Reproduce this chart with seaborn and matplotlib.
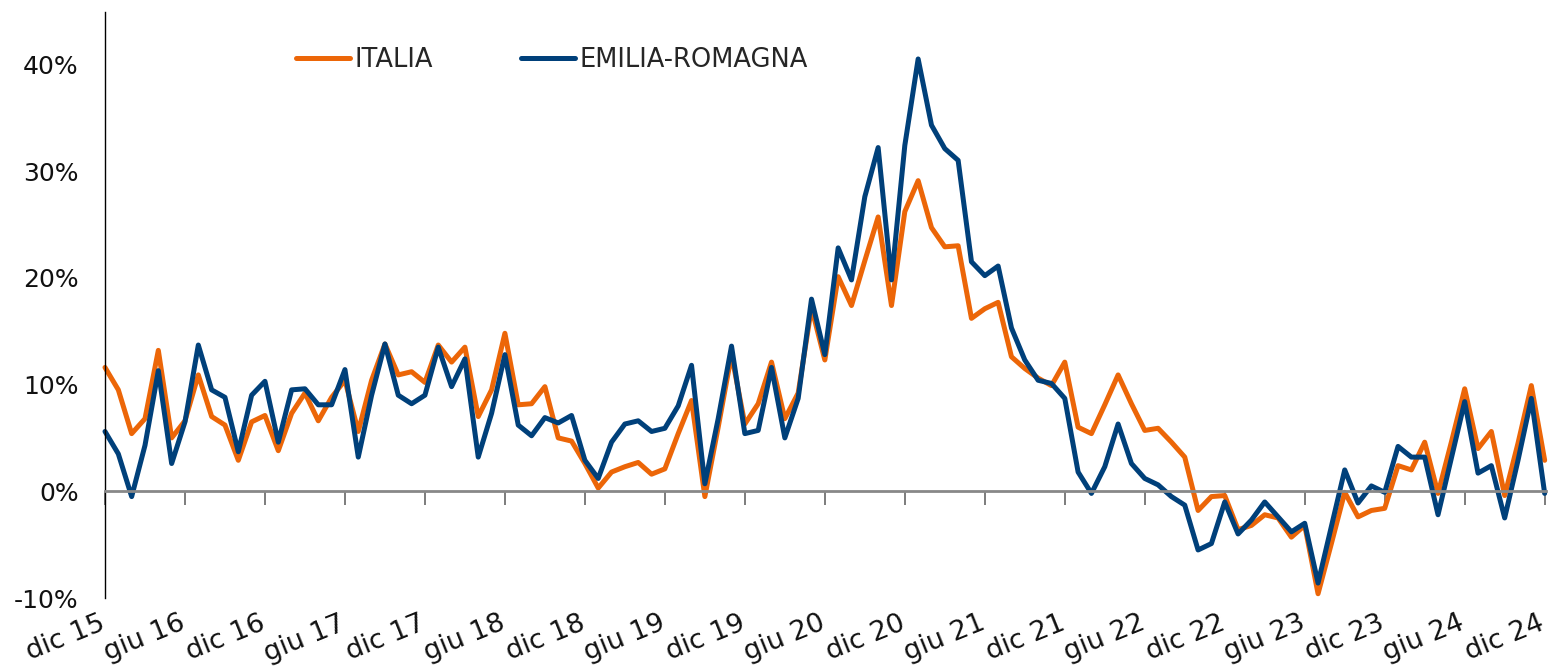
import matplotlib
matplotlib.use("Agg")
import matplotlib.pyplot as plt
from matplotlib.ticker import FuncFormatter
from matplotlib.transforms import ScaledTranslation
import numpy as np
import pandas as pd
import seaborn as sns

# ---- data (monthly, dic 15 .. dic 24) ----
italia = [11.6, 9.5, 5.4, 6.8, 13.2, 5.0, 6.6, 10.9, 7.0, 6.2, 2.9, 6.5, 7.1, 3.8, 7.3, 9.2,
          6.6, 8.8, 10.4, 5.6, 10.4, 13.8, 10.9, 11.2, 10.2, 13.7, 12.1, 13.5, 7.0, 9.5, 14.8,
          8.1, 8.2, 9.8, 5.0, 4.7, 2.6, 0.3, 1.8, 2.3, 2.7, 1.6, 2.1, 5.4, 8.5, -0.5, 6.0,
          12.8, 6.3, 8.2, 12.1, 6.8, 9.2, 17.2, 12.3, 20.1, 17.4, 21.6, 25.7, 17.4, 26.2,
          29.1, 24.7, 22.9, 23.0, 16.2, 17.1, 17.7, 12.6, 11.5, 10.6, 9.9, 12.1, 6.0, 5.4,
          8.1, 10.9, 8.2, 5.7, 5.9, 4.6, 3.2, -1.8, -0.5, -0.4, -3.6, -3.2, -2.2, -2.5, -4.3,
          -3.2, -9.6, -4.9, -0.1, -2.4, -1.8, -1.6, 2.4, 2.0, 4.6, -0.2, 4.6, 9.6, 4.0, 5.6,
          -0.4, 4.5, 9.9, 2.9]
emilia_romagna = [5.6, 3.5, -0.5, 4.3, 11.3, 2.6, 6.5, 13.7, 9.5, 8.8, 3.7, 9.0, 10.3, 4.6,
                  9.5, 9.6, 8.1, 8.1, 11.4, 3.2, 9.0, 13.8, 9.0, 8.2, 9.0, 13.5, 9.8, 12.4,
                  3.2, 7.3, 12.8, 6.2, 5.2, 6.9, 6.4, 7.1, 2.9, 1.2, 4.6, 6.3, 6.6, 5.6, 5.9,
                  8.0, 11.8, 0.7, 6.8, 13.6, 5.4, 5.7, 11.6, 5.0, 8.7, 18.0, 12.8, 22.8, 19.8,
                  27.6, 32.2, 19.8, 32.4, 40.5, 34.3, 32.1, 31.0, 21.5, 20.2, 21.1, 15.3, 12.3,
                  10.4, 10.1, 8.7, 1.8, -0.2, 2.3, 6.3, 2.6, 1.2, 0.6, -0.5, -1.3, -5.5, -4.9,
                  -1.0, -4.0, -2.7, -1.0, -2.4, -3.8, -3.0, -8.6, -3.3, 2.0, -1.1, 0.5, -0.1,
                  4.2, 3.2, 3.2, -2.2, 3.1, 8.4, 1.7, 2.4, -2.5, 2.9, 8.7, -0.2]
tick_labels = ["dic 15", "giu 16", "dic 16", "giu 17", "dic 17", "giu 18", "dic 18",
               "giu 19", "dic 19", "giu 20", "dic 20", "giu 21", "dic 21", "giu 22",
               "dic 22", "giu 23", "dic 23", "giu 24", "dic 24"]
y_ticks = [-10, 0, 10, 20, 30, 40]

ORANGE = "#EC6608"
BLUE = "#00407A"

sns.set_theme(style="white")
plt.rcParams['font.family'] = ['DejaVu Sans']

months = np.arange(len(italia))
df = pd.DataFrame({"m": months, "ITALIA": italia, "EMILIA-ROMAGNA": emilia_romagna})

W, H = 1549, 670
fig = plt.figure(figsize=(W / 100, H / 100), dpi=100)
ax = fig.add_axes([105 / W, 72 / H, (1546 - 105) / W, (658 - 72) / H])

sns.lineplot(data=df, x="m", y="ITALIA", color=ORANGE, lw=3.6, ax=ax, label="ITALIA")
sns.lineplot(data=df, x="m", y="EMILIA-ROMAGNA", color=BLUE, lw=3.6, ax=ax,
             label="EMILIA-ROMAGNA")
for ln in ax.lines:
    ln.set_solid_joinstyle("round")
    ln.set_clip_on(False)

ax.set_xlim(0, 108.1)
ax.set_ylim(-10, 44.9)
ax.set_xlabel("")
ax.set_ylabel("")
ax.set_yticks(y_ticks)
ax.yaxis.set_major_formatter(FuncFormatter(lambda v, p: f"{v:.0f}%"))
ax.tick_params(axis="y", length=0, pad=19, labelsize=18, labelcolor="#111111")

for s in ("top", "right"):
    ax.spines[s].set_visible(False)
ax.spines["left"].set_color("black")
ax.spines["left"].set_linewidth(1.0)
ax.spines["bottom"].set_position(("data", 0))
ax.spines["bottom"].set_color("#888888")
ax.spines["bottom"].set_linewidth(2.0)
ax.set_xticks(range(0, len(italia), 6))
ax.tick_params(axis="x", direction="out", length=10, width=1.2, color="#666666",
               labelbottom=False, bottom=True)

sec = ax.secondary_xaxis("bottom")
sec.set_xticks(list(range(0, len(italia), 6)), labels=tick_labels, rotation=22,
               ha="right", rotation_mode="anchor")
sec.tick_params(length=0, pad=9, labelsize=19.5, labelcolor="#111111")
sec.spines["bottom"].set_visible(False)
shift = ScaledTranslation(-6 / 100, 0, fig.dpi_scale_trans)
for lbl in sec.get_xticklabels():
    lbl.set_transform(lbl.get_transform() + shift)

ax.legend(loc="center left", bbox_to_anchor=(283 / W, 1 - 60 / H),
          bbox_transform=fig.transFigure, ncol=2, frameon=False, fontsize=18.5,
          handlelength=2.1, handletextpad=0.2, columnspacing=3.4, borderpad=0)

fig.savefig("out.png", dpi=100, facecolor="white")
